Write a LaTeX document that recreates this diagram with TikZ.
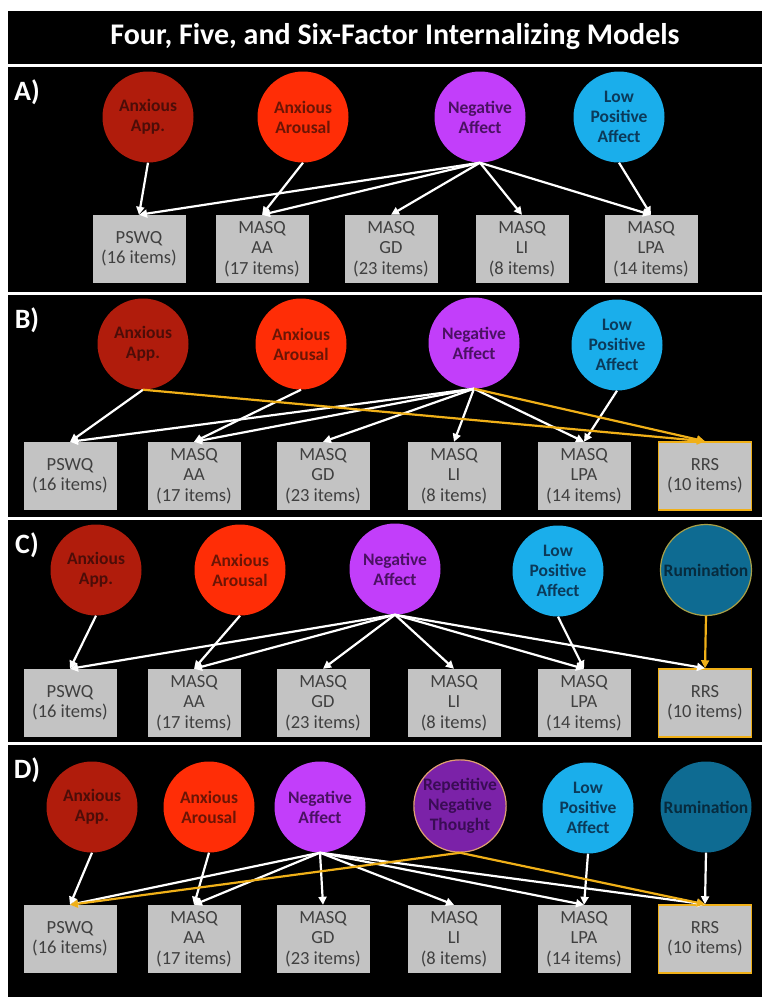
\documentclass[tikz,border=0pt]{standalone}
\usepackage{fontspec}
\setmainfont{Carlito}
\usepackage{tikz}
\usetikzlibrary{arrows.meta}

\definecolor{appred}{HTML}{B01C0C}
\definecolor{apptxt}{HTML}{4C0D08}
\definecolor{arored}{HTML}{FF2D06}
\definecolor{arotxt}{HTML}{6B1505}
\definecolor{negpurple}{HTML}{C23EFA}
\definecolor{negtxt}{HTML}{4B1163}
\definecolor{lowblue}{HTML}{1AAEEB}
\definecolor{lowtxt}{HTML}{0B3A5A}
\definecolor{rumblue}{HTML}{0E6B92}
\definecolor{rumtxt}{HTML}{072B3E}
\definecolor{rumrim}{HTML}{A8A048}
\definecolor{rntpurple}{HTML}{7B22A8}
\definecolor{rnttxt}{HTML}{3A0C55}
\definecolor{rntrim}{HTML}{E0A070}
\definecolor{boxgray}{HTML}{C3C3C3}
\definecolor{boxtxt}{HTML}{404040}
\definecolor{rrsgold}{HTML}{F0B018}

\begin{document}
\begin{tikzpicture}[x=1pt,y=-1pt,
  fac/.style={circle,minimum size=91pt,inner sep=0pt,align=center,
    font=\bfseries\fontsize{17.5}{20}\selectfont},
  app/.style={fac,fill=appred,text=apptxt},
  aro/.style={fac,fill=arored,text=arotxt},
  neg/.style={fac,fill=negpurple,text=negtxt},
  low/.style={fac,fill=lowblue,text=lowtxt},
  rum/.style={fac,fill=rumblue,text=rumtxt},
  rnt/.style={fac,fill=rntpurple,text=rnttxt,draw=rntrim,line width=1.2pt},
  ind/.style={rectangle,fill=boxgray,text=boxtxt,minimum width=93pt,minimum height=68pt,
    inner sep=0pt,align=center,font=\fontsize{18.5}{20.5}\selectfont},
  load/.style={white,line width=2.2pt,-{Triangle[length=8pt,width=8pt]}},
  gload/.style={rrsgold,line width=2.2pt,-{Triangle[length=8pt,width=8pt]}}]

\fill[white] (0,0) rectangle (762,997);
\fill[black] (8,11) rectangle (762,997);
\foreach \y in {65,293,518,743}{
\draw[white,line width=3pt] (8,\y) -- (762,\y);}

\node[text=white,font=\bfseries\fontsize{30}{34}\selectfont] (title) at (395,37)
  {Four, Five, and Six-Factor Internalizing Models};
\foreach \l/\y in {A/92,B/320,C/545,D/770}{
\node[text=white,font=\bfseries\fontsize{28}{30}\selectfont] (lab\l) at (27,\y) {\l)};}

% A) four factors
\node[app] (aApp) at (148,117) {Anxious\\App.};
\node[aro] (aAro) at (303,117) {Anxious\\Arousal};
\node[neg] (aNeg) at (480,117) {Negative\\Affect};
\node[low] (aLow) at (619,117) {Low\\Positive\\Affect};
\foreach \n/\x/\txt in {PSWQ/139/{PSWQ\\(16 items)},AA/262/{MASQ\\AA\\(17 items)},
  GD/391/{MASQ\\GD\\(23 items)},LI/522/{MASQ\\LI\\(8 items)},LPA/651/{MASQ\\LPA\\(14 items)}}{
\node[ind] (a\n) at (\x,249) {\txt};}

\draw[load] (aApp.south) -- (aPSWQ.north);
\draw[load] (aAro.south) -- (aAA.north);
\foreach \b in {PSWQ,AA,GD,LI,LPA}{
\draw[load] (aNeg.south) -- (a\b.north);}
\draw[load] (aLow.south) -- (aLPA.north);

% boxes for B), C), D)
\foreach \p/\y in {b/476,c/703,d/939}{
\foreach \n/\x/\txt in {PSWQ/70/{PSWQ\\(16 items)},AA/194/{MASQ\\AA\\(17 items)},
  GD/323/{MASQ\\GD\\(23 items)},LI/454/{MASQ\\LI\\(8 items)},LPA/584/{MASQ\\LPA\\(14 items)}}{
\node[ind] (\p\n) at (\x,\y) {\txt};}
\node[ind,draw=rrsgold,line width=1.5pt] (\p RRS) at (705,\y) {RRS\\(10 items)};}

% B) five factors
\node[app] (bApp) at (143,344) {Anxious\\App.};
\node[aro] (bAro) at (301,344) {Anxious\\Arousal};
\node[neg] (bNeg) at (474,343) {Negative\\Affect};
\node[low] (bLow) at (617,345) {Low\\Positive\\Affect};

\draw[load] (bApp.south) -- (bPSWQ.north);
\draw[load] (bAro.south) -- (bAA.north);
\foreach \b in {PSWQ,AA,GD,LI,LPA}{
\draw[load] (bNeg.south) -- (b\b.north);}
\draw[load] (bLow.south) -- (bLPA.north);
\draw[gload] (bApp.south) -- (bRRS.north);
\draw[gload] (bNeg.south) -- (bRRS.north);

% C) five factors with rumination
\node[app] (cApp) at (96,570) {Anxious\\App.};
\node[aro] (cAro) at (240,570) {Anxious\\Arousal};
\node[neg] (cNeg) at (395,569) {Negative\\Affect};
\node[low] (cLow) at (558,571) {Low\\Positive\\Affect};
\node[rum,draw=rumrim,line width=1.2pt] (cRum) at (706,570) {Rumination};

\draw[load] (cApp.south) -- (cPSWQ.north);
\draw[load] (cAro.south) -- (cAA.north);
\foreach \b in {PSWQ,AA,GD,LI,LPA,RRS}{
\draw[load] (cNeg.south) -- (c\b.north);}
\draw[load] (cLow.south) -- (cLPA.north);
\draw[gload] (cRum.south) -- (cRRS.north);

% D) six factors
\node[app] (dApp) at (92,807) {Anxious\\App.};
\node[aro] (dAro) at (209,807) {Anxious\\Arousal};
\node[neg] (dNeg) at (320,807) {Negative\\Affect};
\node[rnt] (dRnt) at (460,806) {Repetitive\\Negative\\Thought};
\node[low] (dLow) at (588,808) {Low\\Positive\\Affect};
\node[rum] (dRum) at (706,807) {Rumination};

\draw[load] (dApp.south) -- (dPSWQ.north);
\draw[load] (dAro.south) -- (dAA.north);
\foreach \b in {PSWQ,AA,GD,LI,LPA,RRS}{
\draw[load] (dNeg.south) -- (d\b.north);}
\draw[load] (dLow.south) -- (dLPA.north);
\draw[load] (dRum.south) -- (dRRS.north);
\draw[gload] (dRnt.south) -- (dPSWQ.north);
\draw[gload] (dRnt.south) -- (dRRS.north);

\end{tikzpicture}
\end{document}
